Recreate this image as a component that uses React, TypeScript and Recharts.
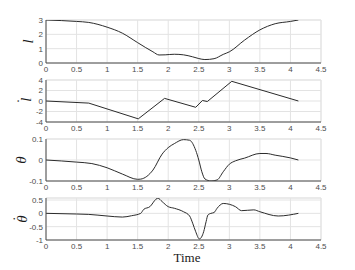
import { LineChart, Line, XAxis, YAxis, CartesianGrid, ReferenceLine, Label } from 'recharts'

// time samples and values
const lTime = [0, 0.5, 0.7, 1, 1.25, 1.5, 1.75, 1.85, 1.95, 2.1, 2.25, 2.4, 2.5, 2.6, 2.75, 2.9, 3, 3.25, 3.5, 3.75, 4, 4.13]
const lValues = [3, 2.9, 2.83, 2.5, 2.08, 1.42, 0.78, 0.56, 0.57, 0.61, 0.57, 0.43, 0.31, 0.24, 0.3, 0.6, 0.78, 1.6, 2.31, 2.74, 2.9, 3.0]

const ldTime = [0, 0.7, 1.51, 1.94, 2.45, 2.56, 2.64, 3.04, 4.13]
const ldValues = [0, -0.4, -3.4, 0.5, -1.2, 0.1, -0.1, 3.75, 0]

const thTime = [0, 0.5, 0.75, 1, 1.25, 1.5, 1.55, 1.75, 1.9, 2, 2.1, 2.25, 2.35, 2.45, 2.5, 2.55, 2.6, 2.7, 2.8, 2.9, 3, 3.1, 3.25, 3.5, 3.6, 3.75, 4, 4.13]
const thValues = [0, -0.01, -0.017, -0.037, -0.067, -0.092, -0.091, -0.048, 0.028, 0.059, 0.078, 0.097, 0.094, 0.046, 0, -0.056, -0.09, -0.1, -0.095, -0.056, -0.02, -0.004, 0.009, 0.031, 0.031, 0.023, 0.01, 0]

const thdTime = [0, 0.5, 0.7, 1, 1.25, 1.4, 1.55, 1.6, 1.7, 1.8, 1.83, 1.9, 2, 2.1, 2.25, 2.35, 2.4, 2.45, 2.51, 2.58, 2.62, 2.65, 2.7, 2.75, 2.8, 2.9, 3, 3.1, 3.2, 3.4, 3.5, 3.8, 4.13]
const thdValues = [0, -0.025, -0.04, -0.1, -0.14, -0.09, 0, 0.15, 0.25, 0.53, 0.57, 0.44, 0.25, 0.19, 0.06, -0.1, -0.37, -0.69, -0.96, -0.69, -0.31, -0.06, 0, 0.03, 0.19, 0.37, 0.34, 0.25, 0.1, 0.13, 0.06, -0.1, 0]

const timeTicks = [0, 0.5, 1, 1.5, 2, 2.5, 3, 3.5, 4, 4.5]
const lTicks = [0, 1, 2, 3]
const ldTicks = [-4, -2, 0, 2, 4]
const thTicks = [-0.1, 0, 0.1]
const thdTicks = [-1, -0.5, 0, 0.5]

const tickStyle = { fill: '#4d4d4d', fontSize: 8, fontFamily: 'Liberation Sans, Arial, sans-serif' }
const gridColor = '#e3e3e3'
const axisColor = '#4a4a4a'

interface PanelProps {
  time: number[]
  values: number[]
  ticks: number[]
  domain: [number, number]
  top: number
  bottom: number
  label: string
  labelX: number
  dotted?: boolean
  smooth?: boolean
}

function Panel({ time, values, ticks, domain, top, bottom, label, labelX, dotted, smooth }: PanelProps) {
  const data = time.map((t, i) => ({ t, v: values[i] }))
  const plotH = bottom - top
  const padTop = 4
  const axisH = 14
  return (
    <div style={{ position: 'absolute', left: 0, top: top - padTop }}>
      <LineChart
        width={355}
        height={padTop + plotH + axisH}
        data={data}
        margin={{ top: padTop, right: 34, left: 0, bottom: 0 }}
      >
        <CartesianGrid stroke={gridColor} strokeWidth={1} />
        <XAxis
          dataKey="t"
          type="number"
          domain={[0, 4.5]}
          ticks={timeTicks}
          tick={tickStyle}
          tickSize={0}
          tickMargin={3}
          height={axisH}
          axisLine={{ stroke: axisColor }}
          tickLine={false}
          interval={0}
        />
        <YAxis
          type="number"
          domain={domain}
          ticks={ticks}
          allowDataOverflow
          tick={tickStyle}
          tickSize={0}
          tickMargin={3}
          width={46}
          axisLine={{ stroke: axisColor }}
          tickLine={false}
          interval={0}
        >
          <Label
            content={(props: any) => {
              const vb = props.viewBox || {}
              const cy = (vb.y ?? top) + (vb.height ?? plotH) / 2
              return (
                <text
                  x={labelX}
                  y={cy}
                  transform={`rotate(-90, ${labelX}, ${cy})`}
                  textAnchor="middle"
                  fontFamily="Liberation Serif, DejaVu Serif, serif"
                  fontStyle="italic"
                  fontSize={15}
                  fill="#1a1a1a"
                >
                  <tspan>{label}</tspan>
                  {dotted && (
                    <tspan dx={-7} dy={-4}>
                      {'\u02d9'}
                    </tspan>
                  )}
                </text>
              )
            }}
          />
        </YAxis>
        <ReferenceLine y={domain[1]} stroke={gridColor} />
        <ReferenceLine x={4.5} stroke={gridColor} />
        <Line
          type={smooth ? 'monotone' : 'linear'}
          dataKey="v"
          stroke="#2b2b2b"
          strokeWidth={1}
          dot={false}
          isAnimationActive={false}
        />
      </LineChart>
    </div>
  )
}

export default function App() {
  return (
    <div style={{ position: 'absolute', left: 0, top: 0, width: 355, height: 270, background: '#fff' }}>
      <Panel time={lTime} values={lValues} ticks={lTicks} domain={[0, 3]} top={20} bottom={63} label="l" labelX={33} smooth />
      <Panel time={ldTime} values={ldValues} ticks={ldTicks} domain={[-4, 4]} top={80} bottom={122} label="l" labelX={31} dotted />
      <Panel time={thTime} values={thValues} ticks={thTicks} domain={[-0.1, 0.1]} top={139} bottom={181} label={'\u03b8'} labelX={26} smooth />
      <Panel time={thdTime} values={thdValues} ticks={thdTicks} domain={[-1, 0.575]} top={198} bottom={240} label={'\u03b8'} labelX={27} dotted smooth />
      <div
        style={{
          position: 'absolute',
          left: 0,
          width: 374,
          top: 250,
          textAlign: 'center',
          fontFamily: 'Liberation Serif, DejaVu Serif, serif',
          fontSize: 13,
          color: '#1a1a1a',
        }}
      >
        Time
      </div>
    </div>
  )
}
